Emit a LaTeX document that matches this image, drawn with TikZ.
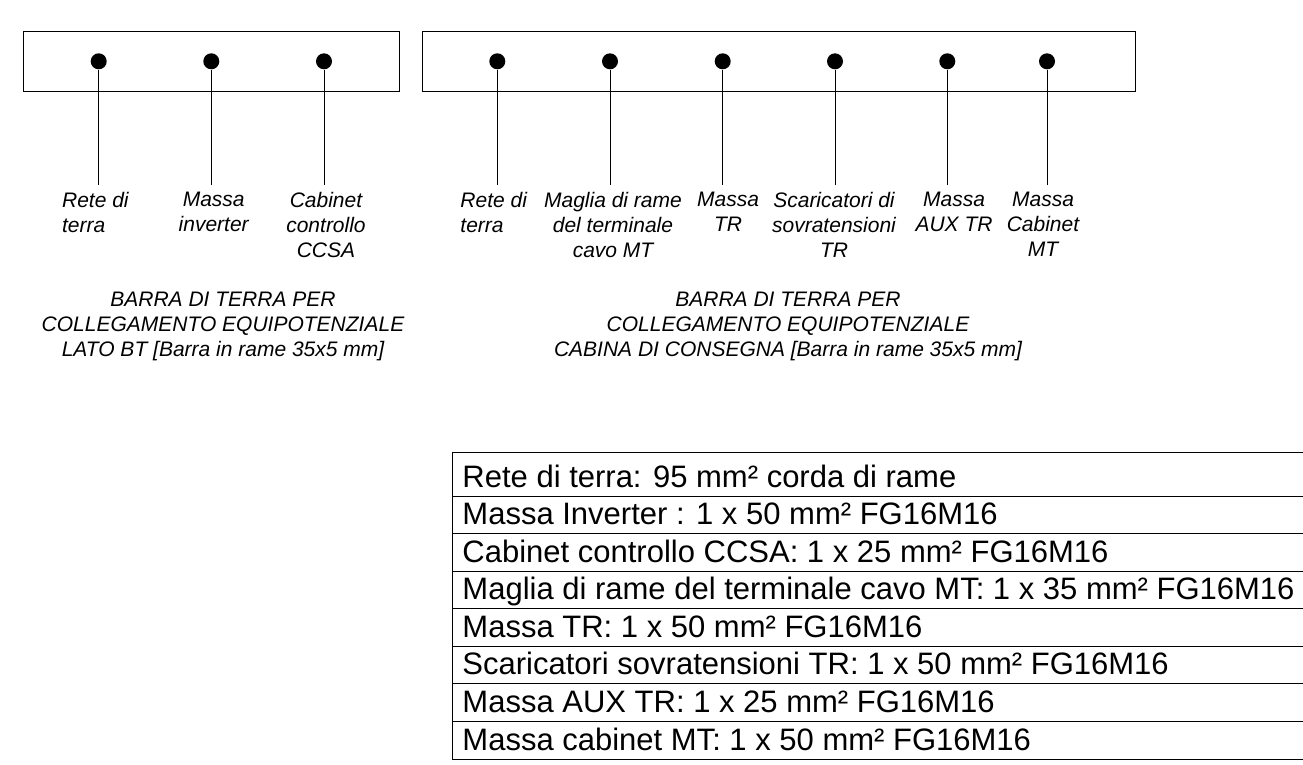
\documentclass[tikz,border=0pt]{standalone}
\usepackage{fontspec}
\setmainfont{Liberation Sans}
\usetikzlibrary{positioning}

\begin{document}
\begin{tikzpicture}[x=1pt, y=-1pt, line width=0.9pt,
    dot/.style={circle, fill=black, inner sep=0pt, minimum size=16pt},
    lbl/.style={font=\fontsize{21}{25}\selectfont\itshape, align=center, anchor=north, inner xsep=0pt, inner ysep=7pt},
    lblleft/.style={lbl, align=left, anchor=north west},
    caption/.style={font=\fontsize{21}{25}\selectfont\itshape, align=center, anchor=north, inner sep=0pt},
    rowtext/.style={font=\fontsize{31}{31}\selectfont, anchor=base west, inner sep=0pt}]
  \useasboundingbox (0,0) rectangle (1303,764);
  \draw (23.3,31.7) rectangle (399,91);
  \draw (422.3,31.7) rectangle (1135,91);
  \foreach \x/\n in {98.7/a1,211.3/a2,324/a3,497.3/b1,610/b2,722.7/b3,835/b4,947.3/b5,1047/b6}
    \node[dot] (\n) at (\x,61.3) {};
  \node[lblleft] (la1) at (61.7,185) {Rete di\\terra};
  \node[lbl] (la2) at (213.7,185) {Massa\\inverter};
  \node[lbl] (la3) at (326,185) {Cabinet\\controllo\\CCSA};
  \node[lblleft] (lb1) at (460,185) {Rete di\\terra};
  \node[lbl] (lb2) at (613,185) {Maglia di rame\\del terminale\\cavo MT};
  \node[lbl] (lb3) at (728,185) {Massa\\TR};
  \node[lbl] (lb4) at (834,185) {Scaricatori di\\sovratensioni\\TR};
  \node[lbl] (lb5) at (954,185) {Massa\\AUX TR};
  \node[lbl] (lb6) at (1043,185) {Massa\\Cabinet\\MT};
  \foreach \n in {a1,a2,a3,b1,b2,b3,b4,b5,b6}
    \draw (\n) -- (\n |- l\n.north);
  \node[caption] (capbt) at (223,292) {BARRA DI TERRA PER\\COLLEGAMENTO EQUIPOTENZIALE\\LATO BT [Barra in rame 35x5 mm]};
  \node[caption] (capcc) at (788,292) {BARRA DI TERRA PER\\COLLEGAMENTO EQUIPOTENZIALE\\CABINA DI CONSEGNA [Barra in rame 35x5 mm]};
  \draw (1303,452) -- (452,452) -- (452,759);
  \foreach \t [count=\i] in {Rete di terra: 95 mm² corda di rame,
      Massa Inverter : 1 x 50 mm² FG16M16,
      Cabinet controllo CCSA: 1 x 25 mm² FG16M16,
      Maglia di rame del terminale cavo MT: 1 x 35 mm² FG16M16,
      Massa TR: 1 x 50 mm² FG16M16,
      Scaricatori sovratensioni TR: 1 x 50 mm² FG16M16,
      Massa AUX TR: 1 x 25 mm² FG16M16,
      Massa cabinet MT: 1 x 50 mm² FG16M16} {
    \pgfmathsetmacro{\yb}{496+37.57*(\i-1)}
    \node[rowtext] (row\i) at (462,\yb-9) {\t};
    \draw (452,\yb) -- (1303,\yb);
  }
\end{tikzpicture}
\end{document}
